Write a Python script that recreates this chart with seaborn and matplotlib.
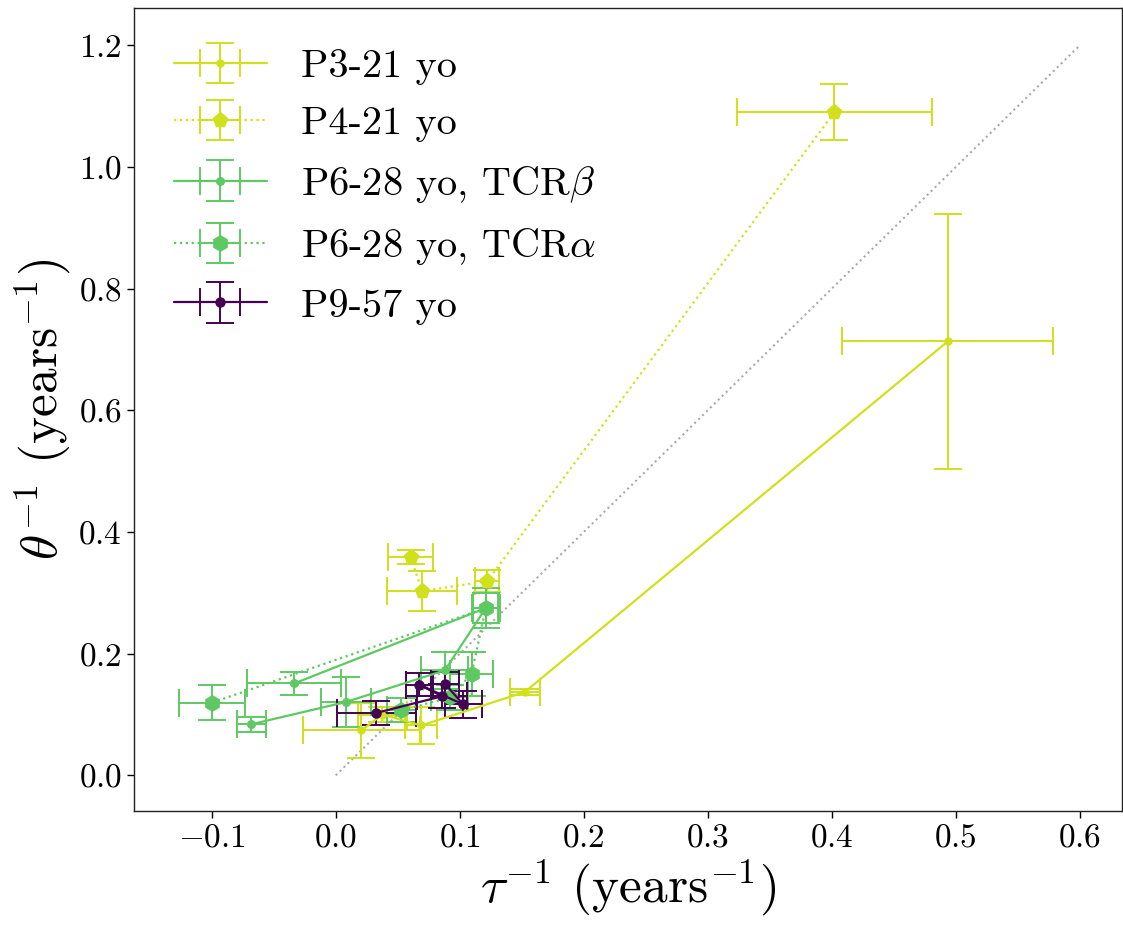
import numpy as np
import matplotlib
matplotlib.use("Agg")
import matplotlib.pyplot as plt
import seaborn as sns
import pandas as pd

# ---------------- data ----------------
p3_x = [0.0207, 0.0376, 0.069, 0.1525, 0.4936]
p3_y = [0.074, 0.100, 0.082, 0.137, 0.7135]
p3_xerr = [0.047, 0.020, 0.013, 0.012, 0.085]
p3_yerr = [0.045, 0.012, 0.030, 0.005, 0.210]

p4_x = [0.0603, 0.0697, 0.1221, 0.4022]
p4_y = [0.359, 0.303, 0.319, 1.0904]
p4_xerr = [0.018, 0.028, 0.0094, 0.079]
p4_yerr = [0.011, 0.033, 0.018, 0.0455]

p6b_x = [-0.068, 0.0081, 0.088, 0.121, -0.0336]
p6b_y = [0.084, 0.1205, 0.1726, 0.275, 0.151]
p6b_xerr = [0.012, 0.020, 0.019, 0.010, 0.038]
p6b_yerr = [0.012, 0.041, 0.030, 0.025, 0.0186]

p6a_x = [-0.0998, 0.121, 0.1095, 0.092, 0.053]
p6a_y = [0.1195, 0.275, 0.167, 0.128, 0.107]
p6a_xerr = [0.027, 0.0115, 0.017, 0.015, 0.012]
p6a_yerr = [0.029, 0.033, 0.036, 0.020, 0.020]

p9_x = [0.0328, 0.0858, 0.0673, 0.1028, 0.088]
p9_y = [0.1027, 0.130, 0.149, 0.1167, 0.1506]
p9_xerr = [0.032, 0.020, 0.011, 0.015, 0.011]
p9_yerr = [0.020, 0.020, 0.019, 0.022, 0.020]

labels = ["P3-21 yo", "P4-21 yo", r"P6-28 yo, TCR$\beta$",
          r"P6-28 yo, TCR$\alpha$", "P9-57 yo"]
colors = ["#d0e11c", "#d0e11c", "#5ec962", "#5ec962", "#440154"]

diag_x = [0.0, 0.6]
diag_y = [0.0, 1.2]

xticks = [-0.1, 0.0, 0.1, 0.2, 0.3, 0.4, 0.5, 0.6]
yticks = [0.0, 0.2, 0.4, 0.6, 0.8, 1.0, 1.2]

# ---------------- style ----------------
sns.set_style("ticks")
plt.rcParams["font.family"] = "serif"
plt.rcParams["font.serif"] = ["cmr10", "DejaVu Serif"]
plt.rcParams["mathtext.fontset"] = "cm"
plt.rcParams["axes.formatter.use_mathtext"] = True
plt.rcParams["axes.unicode_minus"] = True
plt.rcParams["text.color"] = "black"
plt.rcParams["axes.labelcolor"] = "black"
plt.rcParams["xtick.color"] = "black"
plt.rcParams["ytick.color"] = "black"

fig = plt.figure(figsize=(11.23, 9.25), dpi=100)
ax = fig.add_axes([0.119, 0.123, 0.880, 0.868])

series = [
    (p3_x, p3_y, p3_xerr, p3_yerr, "-", "o", 5),
    (p4_x, p4_y, p4_xerr, p4_yerr, ":", "p", 11),
    (p6b_x, p6b_y, p6b_xerr, p6b_yerr, "-", "o", 5.5),
    (p6a_x, p6a_y, p6a_xerr, p6a_yerr, ":", "h", 11),
    (p9_x, p9_y, p9_xerr, p9_yerr, "-", "o", 6.5),
]

for (x, y, xe, ye, ls, mk, ms), lab, col in zip(series, labels, colors):
    ax.errorbar(x, y, xerr=xe, yerr=ye, linestyle=ls, marker=mk, ms=ms,
                color=col, lw=1.6, elinewidth=1.4, capsize=10, capthick=1.4,
                ecolor=col, label=lab)

diag = pd.DataFrame({"x": diag_x, "y": diag_y})
sns.lineplot(data=diag, x="x", y="y", ax=ax, color="#aaaaaa",
             linestyle=":", lw=1.5, legend=False, zorder=0)

ax.set_xlim(-0.163, 0.634)
ax.set_ylim(-0.059, 1.261)
ax.set_xticks(xticks)
ax.set_yticks(yticks)
ax.tick_params(axis="both", labelsize=24, length=5, width=1, colors="black")
for s in ax.spines.values():
    s.set_linewidth(1.0)
    s.set_color("#222222")

ax.set_xlabel(r"$\tau^{-1}$ (years$^{-1}$)", fontsize=37)
ax.set_ylabel(r"$\theta^{-1}$ (years$^{-1}$)", fontsize=37)

ax.legend(loc="upper left", frameon=False, fontsize=29, handlelength=2.3,
          labelspacing=0.53, handletextpad=0.85, borderaxespad=0.6)

fig.savefig("out.png", dpi=100)
